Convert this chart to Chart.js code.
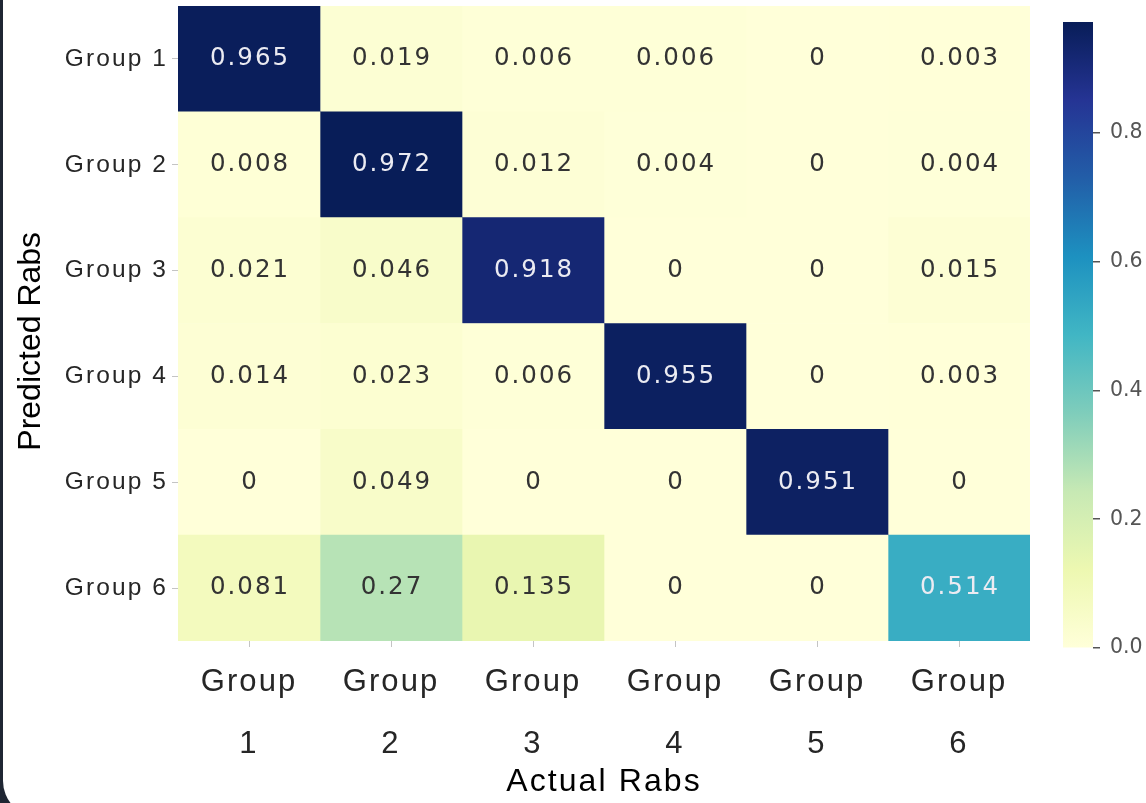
<!DOCTYPE html>
<html>
<head>
<meta charset="utf-8">
<script src="https://cdn.jsdelivr.net/npm/chart.js@4.4.1/dist/chart.umd.min.js"></script>
<style>
  html, body { margin: 0; padding: 0; }
  body { width: 1146px; height: 803px; overflow: hidden; background: #1f2633; position: relative; }
  #panel { position: absolute; left: 3px; top: -40px; right: -40px; bottom: -14px; background: #fff; border-radius: 36px; }
  #heat { position: absolute; left: 0; top: 0; }
  #scaleBar { position: absolute; left: 1040px; top: 0; }
</style>
</head>
<body>
<div id="panel"></div>
<canvas id="heat" width="1040" height="803"></canvas>
<canvas id="scaleBar" width="106" height="803"></canvas>
<script>
// Row labels (predicted class) and column labels (actual class)
const predictedLabels = ['Group 1', 'Group 2', 'Group 3', 'Group 4', 'Group 5', 'Group 6'];
const actualLabels = [['Group', '1'], ['Group', '2'], ['Group', '3'], ['Group', '4'], ['Group', '5'], ['Group', '6']];

// One array per predicted group, values per actual group
const predGroup1 = [0.965, 0.019, 0.006, 0.006, 0, 0.003];
const predGroup2 = [0.008, 0.972, 0.012, 0.004, 0, 0.004];
const predGroup3 = [0.021, 0.046, 0.918, 0, 0, 0.015];
const predGroup4 = [0.014, 0.023, 0.006, 0.955, 0, 0.003];
const predGroup5 = [0, 0.049, 0, 0, 0.951, 0];
const predGroup6 = [0.081, 0.27, 0.135, 0, 0, 0.514];
const matrix = [predGroup1, predGroup2, predGroup3, predGroup4, predGroup5, predGroup6];

// Colour bar tick values
const colorbarTicks = [0, 0.2, 0.4, 0.6, 0.8];

const vmax = Math.max(...matrix.flat());

// YlGnBu colour map
const ylgnbu = ['#ffffd9', '#edf8b1', '#c7e9b4', '#7fcdbb', '#41b6c4', '#1d91c0', '#225ea8', '#253494', '#081d58'];
function hexToRgb(h) {
  return [parseInt(h.slice(1, 3), 16), parseInt(h.slice(3, 5), 16), parseInt(h.slice(5, 7), 16)];
}
const ylgnbuRgb = ylgnbu.map(hexToRgb);
function cmap(t) {
  t = Math.max(0, Math.min(1, t));
  const p = t * (ylgnbuRgb.length - 1);
  const i = Math.min(Math.floor(p), ylgnbuRgb.length - 2);
  const f = p - i;
  const a = ylgnbuRgb[i], b = ylgnbuRgb[i + 1];
  const c = a.map((v, k) => Math.round(v + (b[k] - v) * f));
  return `rgb(${c[0]},${c[1]},${c[2]})`;
}

const sansFont = '"Liberation Sans", Arial, sans-serif';

// Axis layers drawn before the cells use normal spacing (y title);
// those drawn after the cells (tick labels, x title) use wider spacing.
const textSpacing = {
  id: 'textSpacing',
  beforeDraw(chart) { chart.ctx.letterSpacing = '0px'; },
  afterDraw(chart) { chart.ctx.letterSpacing = '0px'; }
};

// Value annotations in each cell
const cellText = {
  id: 'cellText',
  afterDatasetsDraw(chart) {
    const ctx = chart.ctx;
    ctx.save();
    ctx.font = '24.5px "DejaVu Sans"';
    ctx.letterSpacing = '2px';
    ctx.textAlign = 'center';
    ctx.textBaseline = 'middle';
    chart.data.datasets.forEach((ds, j) => {
      chart.getDatasetMeta(j).data.forEach((bar, i) => {
        const v = matrix[i][j];
        const p = bar.getCenterPoint();
        ctx.fillStyle = v / vmax > 0.45 ? '#ebebf2' : '#333333';
        ctx.fillText(String(v), p.x + 1, p.y);
      });
    });
    ctx.restore();
    ctx.letterSpacing = '2.1px';
  }
};

new Chart(document.getElementById('heat'), {
  type: 'bar',
  data: {
    labels: predictedLabels,
    datasets: actualLabels.map((lab, j) => ({
      label: lab.join(' '),
      data: matrix.map(() => [j, j + 1]),
      backgroundColor: matrix.map(row => cmap(row[j] / vmax)),
      borderWidth: 0,
      grouped: false,
      barPercentage: 1,
      categoryPercentage: 1
    }))
  },
  options: {
    indexAxis: 'y',
    responsive: false,
    animation: false,
    layout: { padding: { left: 0, top: 6, right: 10, bottom: 0 } },
    plugins: { legend: { display: false }, tooltip: { enabled: false } },
    scales: {
      x: {
        type: 'linear',
        min: 0,
        max: actualLabels.length,
        afterBuildTicks: s => { s.ticks = actualLabels.map((_, j) => ({ value: j + 0.5 })); },
        afterFit: s => { s.height = 162; s.paddingLeft = 0; s.paddingRight = 0; },
        border: { display: false },
        grid: { drawOnChartArea: false, drawTicks: true, tickLength: 6, color: '#c4c4c4', lineWidth: 1, z: 1 },
        ticks: {
          z: 1,
          autoSkip: false, maxRotation: 0, minRotation: 0, padding: 4,
          color: '#262626',
          font: { family: sansFont, size: 31, lineHeight: 2.0 },
          callback: (v, i) => actualLabels[i]
        },
        title: {
          display: true, text: 'Actual Rabs', color: '#000',
          font: { family: sansFont, size: 32, lineHeight: 1.2 },
          padding: { top: 0, bottom: 2 }
        }
      },
      y: {
        type: 'category',
        offset: true,
        afterFit: s => { s.width = 178; s.paddingTop = 0; s.paddingBottom = 0; },
        border: { display: false },
        grid: { offset: false, drawOnChartArea: false, tickLength: 6, color: '#c4c4c4' },
        ticks: { z: 1, padding: 4, color: '#262626', font: { family: sansFont, size: 24.5 } },
        title: {
          display: true, text: 'Predicted Rabs    ', color: '#000',
          font: { family: sansFont, size: 32, lineHeight: 1.2 },
          padding: { top: 12, bottom: 0 }
        }
      }
    }
  },
  plugins: [textSpacing, cellText]
});

// Colour bar: one floating bar spanning the value range, filled with the colour map
function colorbarFill(context) {
  const chart = context.chart;
  const area = chart.chartArea;
  if (!area) return null;
  const g = chart.ctx.createLinearGradient(0, area.bottom, 0, area.top);
  ylgnbu.forEach((c, k) => g.addColorStop(k / (ylgnbu.length - 1), c));
  return g;
}

new Chart(document.getElementById('scaleBar'), {
  type: 'bar',
  data: {
    labels: [''],
    datasets: [{
      data: [[0, vmax]],
      backgroundColor: colorbarFill,
      borderWidth: 0,
      barPercentage: 1,
      categoryPercentage: 1
    }]
  },
  options: {
    responsive: false,
    animation: false,
    layout: { padding: { left: 23, top: 22, right: 0, bottom: 155 } },
    plugins: { legend: { display: false }, tooltip: { enabled: false } },
    scales: {
      x: { display: false },
      y: {
        position: 'right',
        min: 0,
        max: vmax,
        afterBuildTicks: s => { s.ticks = colorbarTicks.map(v => ({ value: v })); },
        afterFit: s => { s.width = 53; s.paddingTop = 0; s.paddingBottom = 0; },
        border: { display: false },
        grid: { drawOnChartArea: false, tickLength: 7, color: '#555', lineWidth: 1.5 },
        ticks: {
          padding: 10, color: '#555',
          font: { family: '"DejaVu Sans"', size: 20.5 },
          callback: v => v.toFixed(1)
        }
      }
    }
  }
});
</script>
</body>
</html>
